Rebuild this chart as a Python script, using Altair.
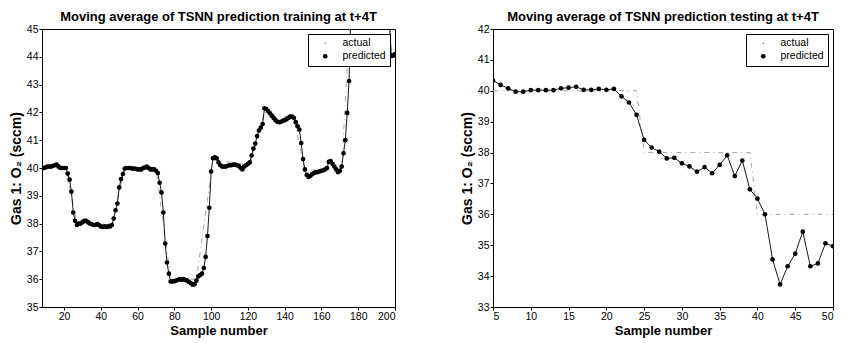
import altair as alt
import pandas as pd

FONT = "Liberation Sans, Arial, Helvetica, sans-serif"

# ---------------- training panel data ----------------
train_start = 8
train_pred = [
    40.0, 40.0, 40.02, 40.05, 40.05, 40.05, 40.08, 40.1, 40.12, 40.05, 40.0, 40.0, 40.0, 40.0,
    39.8, 39.58, 39.15, 38.4, 38.1, 37.95,
    38.0, 38.0, 38.05, 38.1, 38.1, 38.05, 38.0, 37.98, 37.95, 37.95, 37.98, 37.95, 37.9, 37.88, 37.9, 37.88, 37.9, 37.9,
    37.95, 38.18, 38.48, 38.72, 39.3, 39.6, 39.78, 39.98,
    40.0, 40.0, 40.0, 39.98, 39.98, 39.97, 39.95, 39.95, 39.95, 40.0, 40.02, 40.05, 40.0, 39.95, 39.95, 39.95, 39.9,
    39.82, 39.47, 39.12, 38.4, 37.28, 36.6, 36.2, 35.92,
    35.92, 35.93, 35.95, 35.98, 36.0, 35.98, 36.0, 35.97, 35.95, 35.9, 35.85, 35.8, 35.82, 35.95,
    36.1, 36.15, 36.2, 36.4, 36.8, 37.55, 38.57, 39.87, 40.35,
    40.38, 40.35, 40.2, 40.1, 40.05, 40.05, 40.05, 40.08, 40.1, 40.1, 40.12, 40.12, 40.1, 40.08, 40.0, 39.95, 40.05, 40.1, 40.15, 40.2,
    40.45, 40.7, 40.88, 41.15, 41.35, 41.45, 41.58, 42.15,
    42.12, 42.05, 41.97, 41.88, 41.8, 41.72, 41.66, 41.65, 41.66, 41.7, 41.72, 41.75, 41.8, 41.85,
    41.85, 41.8, 41.65, 41.5, 41.38, 40.9, 40.32, 39.95,
    39.75, 39.68, 39.72, 39.78, 39.82, 39.85, 39.85, 39.88, 39.9, 39.92, 39.95, 40.0, 40.22, 40.25, 40.15, 40.05, 39.95, 39.85, 39.9, 40.05, 40.53, 41.0, 41.98, 43.13,
    45.6, 46.0, 46.2, 46.3, 46.3, 46.2, 46.2, 46.1, 46.1, 46.0, 46.0, 46.0, 45.9, 45.9, 45.8, 45.8, 45.7, 45.6, 45.5, 45.4, 45.3, 45.1,
    44.03, 44.05, 44.1,
]
train_x = list(range(train_start, train_start + len(train_pred)))
train_actual_x = [8, 21, 27, 46, 53, 70, 78, 92, 101, 121, 129, 145, 151, 171, 176, 197, 198, 200]
train_actual_y = [40, 40, 38, 38, 40, 40, 36, 36, 40.3, 40.1, 42, 41.8, 39.9, 40, 46, 46, 44, 44]

# ---------------- testing panel data ----------------
test_x = list(range(5, 51))
test_pred = [
    40.33, 40.19, 40.08, 39.97, 39.97, 40.02, 40.02, 40.02, 40.02, 40.08,
    40.1, 40.13, 40.03, 40.03, 40.06, 40.03, 40.06, 39.82, 39.62, 39.22,
    38.41, 38.16, 38.03, 37.81, 37.83, 37.65, 37.55, 37.38, 37.53, 37.33,
    37.6, 37.91, 37.24, 37.74, 36.81, 36.51, 36.0, 34.54, 33.73, 34.32,
    34.73, 35.44, 34.32, 34.41, 35.06, 34.97,
]
test_actual = [
    40, 40, 40, 40, 40, 40, 40, 40, 40, 40, 40, 40, 40, 40, 40, 40, 40, 40, 40, 40,
    38, 38, 38, 38, 38, 38, 38, 38, 38, 38, 38, 38, 38, 38, 38,
    36, 36, 36, 36, 36, 36, 36, 36, 36, 36, 36,
]

series_names = ["actual", "predicted"]
DOT_PATH = "M-0.18,-0.18H0.18V0.18H-0.18Z"


def make_df(px, py, ax, ay):
    a = pd.DataFrame({"x": ax, "v": ay, "series": "actual"})
    p = pd.DataFrame({"x": px, "v": py, "series": "predicted"})
    return pd.concat([a, p], ignore_index=True)


def panel(df, title, xdom, xticks, ydom, yticks, w, h):
    x = alt.X("x:Q", scale=alt.Scale(domain=xdom, nice=False, zero=False),
              axis=alt.Axis(values=xticks, title="Sample number"))
    y = alt.Y("v:Q", scale=alt.Scale(domain=ydom, nice=False, zero=False),
              axis=alt.Axis(values=yticks, title="Gas 1: O\u2082 (sccm)", titleFontSize=14))
    base = alt.Chart(df)
    act = base.transform_filter(alt.datum.series == "actual").mark_line(
        color="#9a9a9a", strokeWidth=0.9, strokeDash=[5, 4, 1, 4], clip=True
    ).encode(x=x, y=y)
    pline = base.transform_filter(alt.datum.series == "predicted").mark_line(
        color="black", strokeWidth=0.9, clip=True
    ).encode(x=x, y=y)
    pts = base.transform_filter(alt.datum.series == "predicted").mark_point(
        filled=True, color="black", size=22, opacity=1, clip=True
    ).encode(
        x=x, y=y,
        shape=alt.Shape("series:N",
                        scale=alt.Scale(domain=series_names, range=[DOT_PATH, "circle"]),
                        legend=alt.Legend(title=None, orient="top-right", offset=5,
                                          strokeColor="black", fillColor="white",
                                          padding=4, symbolOffset=8, labelOffset=12,
                                          rowPadding=1, symbolSize=22,
                                          symbolFillColor="black", symbolStrokeColor="black",
                                          labelFont=FONT, labelFontSize=10.5,
                                          labelColor="black")),
    )
    return alt.layer(act, pline, pts).properties(
        width=w, height=h,
        title=alt.TitleParams(title, font=FONT, fontSize=13, fontWeight="bold",
                              color="black", anchor="middle", offset=0),
    )


train_df = make_df(train_x, train_pred, train_actual_x, train_actual_y)
test_df = make_df(test_x, test_pred, test_x, test_actual)

left = panel(train_df, "Moving average of TSNN prediction training at t+4T",
             [8, 200], [20, 40, 60, 80, 100, 120, 140, 160, 180, 200],
             [35, 45], list(range(35, 46)), 353, 278)
right = panel(test_df, "Moving average of TSNN prediction testing at t+4T",
              [5, 50], [5, 10, 15, 20, 25, 30, 35, 40, 45, 50],
              [33, 42], list(range(33, 43)), 340, 278)

chart = alt.hconcat(left, right, spacing=63).resolve_legend(
    shape="independent"
).resolve_scale(shape="independent").properties(
    padding={"left": 0, "top": 2, "right": 0, "bottom": 0}
).configure_view(
    stroke="black", strokeWidth=1
).configure_axis(
    grid=False, domainColor="black", domainWidth=1, tickColor="black", tickSize=3,
    labelFont=FONT, labelFontSize=10.5, labelColor="black", labelPadding=1,
    titleFont=FONT, titleFontSize=13, titleFontWeight="bold", titleColor="black",
    titlePadding=3,
)

chart.save("out.html", embed_options={"renderer": "svg", "actions": False})
